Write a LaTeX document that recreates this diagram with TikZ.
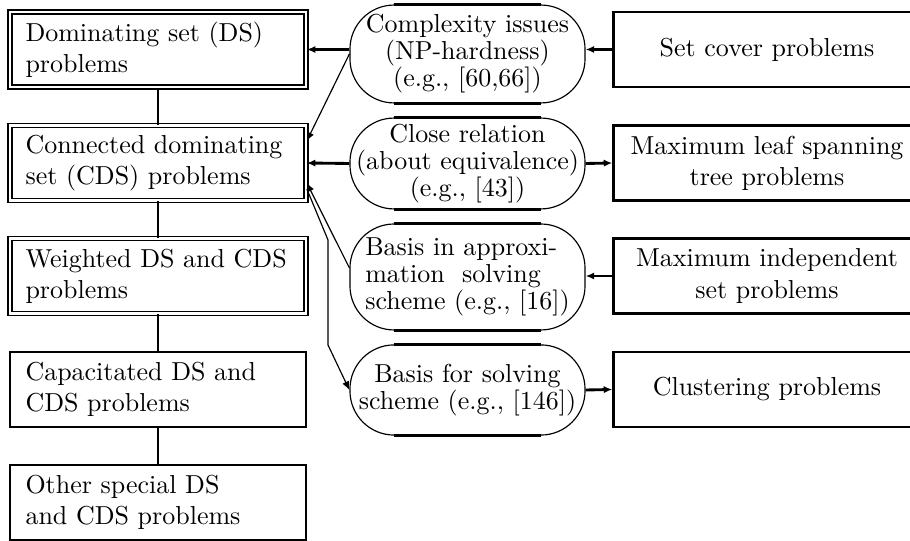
\documentclass[tikz,border=0pt]{standalone}
\usepackage{tikz}
\usetikzlibrary{arrows.meta}

\tikzset{
  dsbox/.style={draw, double, double distance=1pt, line width=0.6pt, minimum width=114pt, minimum height=28.9pt, text width=102pt, inner xsep=5.5pt, align=left},
  plainbox/.style={draw, line width=1.1pt, minimum width=114pt, minimum height=28.9pt, text width=102pt, inner xsep=5.5pt, align=left},
  relnode/.style={draw, line width=0.45pt, rounded corners=17pt, minimum width=90.5pt, inner sep=1pt, align=center, font=\fontsize{10}{10.4}\selectfont},
  probbox/.style={draw, line width=1.1pt, minimum width=118pt, minimum height=28.9pt, align=center},
  thickarrow/.style={line width=1.1pt, -{Latex[length=3.3pt,width=2.8pt]}},
  thinarrow/.style={line width=0.45pt, -{Latex[length=3.3pt,width=2.8pt]}},
}

\begin{document}
\begin{tikzpicture}[x=0.385pt, y=-0.385pt]
  \useasboundingbox (0,0) rectangle (910,541);

  % Left column: problem families
  \node[dsbox] (ds)  at (158,49.5) {Dominating set (DS)\\problems};
  \node[dsbox] (cds) at (158,163)  {Connected dominating\\set (CDS) problems};
  \node[dsbox] (wds) at (158,276)  {Weighted DS and CDS\\problems};
  \node[plainbox] (cap) at (158,389.5) {Capacitated DS and\\CDS problems};
  \node[plainbox] (oth) at (158,502.5) {Other special DS\\and CDS problems};

  \foreach \a/\b in {ds/cds, cds/wds, wds/cap, cap/oth}
    \draw[line width=0.9pt] (\a.south) -- (\b.north);

  % Middle column: relations
  \node[relnode, minimum height=37.7pt] (c1) at (467.5,54)
    {Complexity issues\\(NP-hardness)\\(e.g., [60,66])};
  \node[relnode, minimum height=35pt] (c2) at (467.5,163.5)
    {Close relation\\(about equivalence)\\(e.g., [43])};
  \node[relnode, minimum height=40.8pt, align=left] (c3) at (467.5,277)
    {Basis in approxi-\\mation\ \ solving\\scheme (e.g., [16])};
  \node[relnode, minimum height=34.7pt] (c4) at (467.5,390)
    {Basis for solving\\scheme (e.g., [146])};

  \foreach \n in {c1,c2,c3,c4} {
    \draw[line width=1.1pt] ([xshift=17pt]\n.north west) -- ([xshift=-17pt]\n.north east);
    \draw[line width=1.1pt] ([xshift=17pt]\n.south west) -- ([xshift=-17pt]\n.south east);
  }

  % Right column: related problems
  \node[probbox] (setc)  at (767,49.5) {Set cover problems};
  \node[probbox] (leaf)  at (767,163)  {Maximum leaf spanning\\tree problems};
  \node[probbox] (indep) at (767,276)  {Maximum independent\\set problems};
  \node[probbox] (clus)  at (767,389.5) {Clustering problems};

  % Connectors
  \coordinate (kneeA) at (328,240);
  \coordinate (kneeB) at (328,345);

  \draw[thickarrow] (c1.west |- ds.east) -- (ds.east);
  \draw[thinarrow] (c1.west) -- ([yshift=8.5pt]cds.east);
  \draw[thickarrow] (c2.west) -- (cds.east);
  \draw[thinarrow] ([yshift=3.5pt]c3.west) -- ([yshift=-7.7pt]cds.east);
  \draw[thinarrow] ([yshift=-10pt]cds.east) -- (kneeA) -- (kneeB) -- (c4.west);

  \draw[thickarrow] (setc.west) -- (c1.east |- setc.west);
  \draw[thickarrow] (c2.east) -- (leaf.west);
  \draw[thickarrow] (indep.west) -- (c3.east |- indep.west);
  \draw[thickarrow] (c4.east) -- (clus.west);
\end{tikzpicture}
\end{document}
